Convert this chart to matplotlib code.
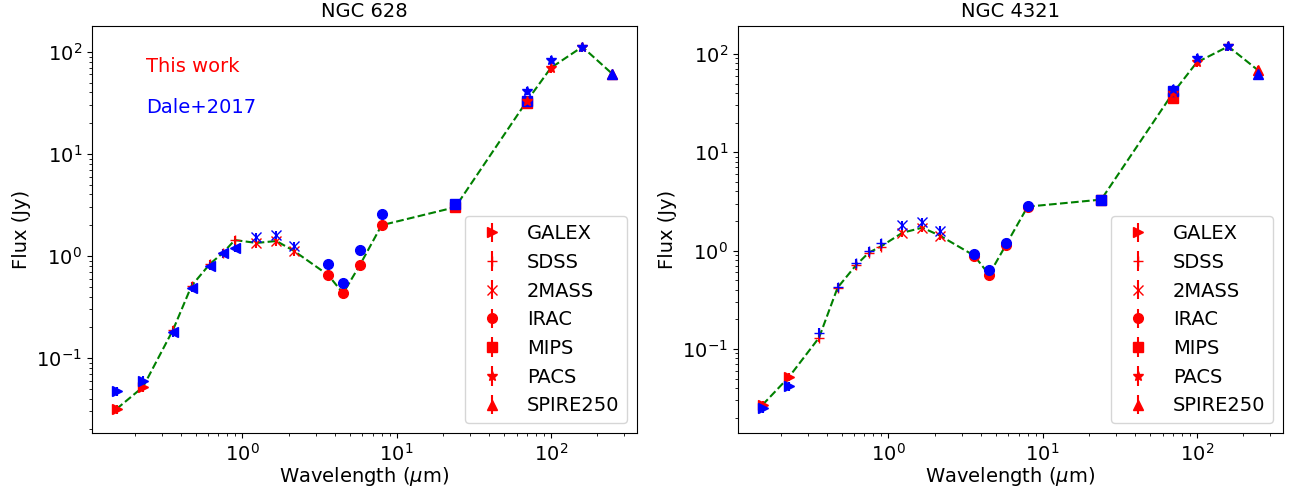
import matplotlib
matplotlib.use("Agg")
from matplotlib import pyplot as plt
import numpy as np

# band wavelengths in micron
wl_galex = [0.1528, 0.2271]
wl_sdss = [0.3551, 0.4686, 0.6166, 0.7480, 0.8932]
wl_2mass = [1.235, 1.662, 2.159]
wl_irac = [3.6, 4.5, 5.8, 8.0]
wl_mips = [24.0, 70.0]
wl_pacs = [70.0, 100.0, 160.0]
wl_spire = [250.0]

# NGC 628 fluxes (Jy): this work / Dale+2017
n628_galex = [0.0316, 0.052]
n628_sdss = [0.188, 0.51, 0.835, 1.07, 1.43]
n628_2mass = [1.34, 1.40, 1.12]
n628_irac = [0.65, 0.43, 0.82, 2.0]
n628_mips = [3.0, 31.5]
n628_pacs = [33.0, 69.6, 112.0]
n628_spire = [61.0]

d628_galex = [0.047, 0.060]
d628_sdss = [0.178, 0.49, 0.80, 1.07, 1.2]
d628_2mass = [1.53, 1.61, 1.25]
d628_irac = [0.835, 0.54, 1.15, 2.58]
d628_mips = [3.24, 33.0]
d628_pacs = [41.5, 83.0, 112.0]
d628_spire = [61.0]

# NGC 4321 fluxes (Jy)
n4321_galex = [0.027, 0.052]
n4321_sdss = [0.13, 0.42, 0.71, 0.955, 1.1]
n4321_2mass = [1.52, 1.71, 1.42]
n4321_irac = [0.89, 0.57, 1.15, 2.8]
n4321_mips = [3.3, 36.0]
n4321_pacs = [40.0, 82.0, 119.0]
n4321_spire = [68.0]

d4321_galex = [0.025, 0.042]
d4321_sdss = [0.147, 0.43, 0.74, 1.0, 1.2]
d4321_2mass = [1.8, 1.97, 1.6]
d4321_irac = [0.93, 0.63, 1.2, 2.87]
d4321_mips = [3.3, 42.0]
d4321_pacs = [44.0, 90.0, 119.0]
d4321_spire = [63.0]

names = ["GALEX", "SDSS", "2MASS", "IRAC", "MIPS", "PACS", "SPIRE250"]
wls = [wl_galex, wl_sdss, wl_2mass, wl_irac, wl_mips, wl_pacs, wl_spire]
marks = [">", "+", "x", "o", "s", "*", "^"]

galaxies = [
    ("NGC 628",
     [n628_galex, n628_sdss, n628_2mass, n628_irac, n628_mips, n628_pacs, n628_spire],
     [d628_galex, d628_sdss, d628_2mass, d628_irac, d628_mips, d628_pacs, d628_spire],
     "<", (0.0184, 180)),
    ("NGC 4321",
     [n4321_galex, n4321_sdss, n4321_2mass, n4321_irac, n4321_mips, n4321_pacs, n4321_spire],
     [d4321_galex, d4321_sdss, d4321_2mass, d4321_irac, d4321_mips, d4321_pacs, d4321_spire],
     "+", (0.014, 193)),
]

fig = plt.figure(figsize=(12.92, 4.87), dpi=100)
lefts = [0.071, 0.571]

for k, (title, ours, dale, sdss_mark, ylims) in enumerate(galaxies):
    ax = fig.add_axes([lefts[k], 0.111, 0.422, 0.836])
    for i in range(len(names)):
        x = np.array(wls[i])
        y = np.array(ours[i])
        ax.errorbar(x, y, yerr=0.1 * y, fmt=marks[i], color="r", ms=7,
                    label=names[i])
        m = marks[i]
        if names[i] == "SDSS":
            m = sdss_mark
        yd = np.array(dale[i])
        ax.errorbar(x, yd, yerr=0.1 * yd, fmt=m, color="b", ms=7)

    # connect our photometry in wavelength order (PACS 70 instead of MIPS 70)
    lx = wl_galex + wl_sdss + wl_2mass + wl_irac + wl_mips[:1] + wl_pacs + wl_spire
    ly = ours[0] + ours[1] + ours[2] + ours[3] + ours[4][:1] + ours[5] + ours[6]
    ax.plot(lx, ly, "g--", lw=1.5)

    ax.set_xscale("log")
    ax.set_yscale("log")
    ax.set_ylim(ylims)
    ax.set_title(title, fontsize=14)
    ax.set_xlabel(r"Wavelength ($\mu$m)", fontsize=14, labelpad=0)
    ax.set_ylabel("Flux (Jy)", fontsize=14)
    ax.tick_params(labelsize=14)
    ax.legend(loc="lower right", fontsize=14)
    if k == 0:
        ax.text(0.099, 0.90, "This work", color="r", fontsize=14,
                transform=ax.transAxes, va="center")
        ax.text(0.099, 0.80, "Dale+2017", color="b", fontsize=14,
                transform=ax.transAxes, va="center")

fig.savefig("out.png")
